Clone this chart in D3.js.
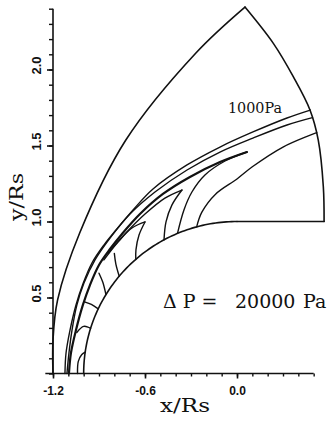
<!DOCTYPE html>
<html>
<head>
<meta charset="utf-8">
<script src="https://cdn.jsdelivr.net/npm/d3@7"></script>
<style>
  body { margin: 0; background: #fff; }
  svg { display: block; }
</style>
</head>
<body>
<script>
// Axis ticks
const xTickValues = [-1.2, -0.6, 0.0];
const xTickLabels = ["-1.2", "-0.6", "0.0"];
const yTickValues = [0.5, 1.0, 1.5, 2.0];
const yTickLabels = ["0.5", "1.0", "1.5", "2.0"];

// Computational domain boundary (x/Rs, y/Rs)
const outerLeft = [[-1.2, 0], [-1.2, 0.22], [-1.17, 0.484], [-1.026, 0.924], [-0.725, 1.536], [-0.268, 2.109], [0.052, 2.411]];
const outerRight = [[0.052, 2.411], [0.237, 2.172], [0.367, 1.953], [0.476, 1.734], [0.530, 1.536], [0.563, 1.229], [0.568, 1.0]];
const baseEdge = [[0.568, 1.0], [0.0, 1.0]];

// Pressure contours
const contour1000 = [[-1.122, 0], [-1.115, 0.135], [-1.089, 0.286], [-1.050, 0.451], [-1.005, 0.589], [-0.946, 0.727], [-0.868, 0.845], [-0.789, 0.944], [-0.678, 1.076], [-0.548, 1.214], [-0.326, 1.372], [-0.111, 1.490], [0.104, 1.589], [0.326, 1.681], [0.478, 1.733]];
const contourB = [[-1.109, 0], [-1.096, 0.135], [-1.076, 0.286], [-1.044, 0.451], [-0.998, 0.595], [-0.926, 0.747], [-0.828, 0.891], [-0.698, 1.049], [-0.535, 1.194], [-0.326, 1.339], [-0.111, 1.457], [0.104, 1.549], [0.326, 1.635], [0.492, 1.683]];
const contourT = [[-1.096, 0], [-1.083, 0.135], [-1.050, 0.286], [-1.005, 0.451], [-0.959, 0.582], [-0.900, 0.714], [-0.828, 0.819], [-0.750, 0.918], [-0.633, 1.049], [-0.483, 1.181], [-0.307, 1.293], [-0.111, 1.391], [0.065, 1.457]];
const tongue1Lower = [[0.065, 1.457], [-0.078, 1.398], [-0.209, 1.306], [-0.294, 1.194], [-0.346, 1.076], [-0.388, 0.922]];
const tongue2Upper = [[-0.359, 1.207], [-0.470, 1.154], [-0.600, 1.049], [-0.731, 0.918], [-0.841, 0.793]];
const tongue2Lower = [[-0.359, 1.207], [-0.424, 1.109], [-0.463, 0.997], [-0.476, 0.879]];
const tongue3Upper = [[-0.600, 0.997], [-0.685, 0.957], [-0.776, 0.865], [-0.868, 0.747]];
const tongue3Lower = [[-0.600, 0.997], [-0.639, 0.911], [-0.659, 0.813], [-0.660, 0.750]];
const hook1 = [[-0.80, 0.79], [-0.79, 0.72], [-0.768, 0.64]];
const hook2 = [[-0.90, 0.66], [-0.875, 0.60], [-0.855, 0.52]];
const hook3 = [[-0.99, 0.47], [-0.95, 0.455], [-0.905, 0.425]];
const hook4 = [[-1.045, 0.27], [-1.0, 0.31], [-0.955, 0.297]];
const dome = [[-1.04, 0], [-1.035, 0.08], [-1.012, 0.125], [-0.99, 0.141]];
const contourC = [[-0.263, 0.965], [-0.23, 1.06], [-0.14, 1.18], [0.0, 1.28], [0.1, 1.36], [0.3, 1.49], [0.52, 1.585]];

const contours = [contour1000, contourB, contourT, tongue1Lower, tongue2Upper, tongue2Lower,
  tongue3Upper, tongue3Lower, hook1, hook2, hook3, hook4, dome, contourC];

const W = 327, H = 426;
const ink = "#111";

const svg = d3.select("body").append("svg").attr("width", W).attr("height", H);

const x = d3.scaleLinear().domain([-1.2, 0]).range([53, 237]);
const y = d3.scaleLinear().domain([0, 2]).range([373.5, 69.5]);

const xAxisScale = d3.scaleLinear().domain([-1.25, 0.5]).range([x(-1.25), x(0.5)]);
const yAxisScale = d3.scaleLinear().domain([0, 2.4]).range([y(0), y(2.4)]);

const line = d3.line().x(d => x(d[0])).y(d => y(d[1])).curve(d3.curveCatmullRom.alpha(0.5));
const straight = d3.line().x(d => x(d[0])).y(d => y(d[1]));

// Solar surface, r = 1 Rs, from the pole down to the equator
const surface = d3.range(0, 91, 1).map(a => {
  const t = (90 + a) * Math.PI / 180;
  return [Math.cos(t), Math.sin(t)];
});

const g = svg.append("g").attr("fill", "none").attr("stroke", ink).attr("stroke-linejoin", "round").attr("stroke-linecap", "round");

g.append("path").attr("d", line(outerLeft)).attr("stroke-width", 1.6);
g.append("path").attr("d", line(outerRight)).attr("stroke-width", 1.6);
g.append("path").attr("d", straight(baseEdge)).attr("stroke-width", 1.6);
g.append("path").attr("d", straight(surface)).attr("stroke-width", 1.6);

g.selectAll(".contour").data(contours).join("path")
  .attr("class", "contour")
  .attr("d", d => line(d))
  .attr("stroke-width", (d, i) => (i === 2 ? 2.2 : 1.4));

// Axes
const minorX = d3.range(-12, 6).map(i => i / 10);
const minorY = d3.range(0, 25).map(i => i / 10);

const xAxisG = svg.append("g").attr("transform", `translate(0,${y(0)})`);
xAxisG.append("g").call(d3.axisBottom(xAxisScale).tickValues(minorX).tickSize(3).tickFormat(""))
  .call(a => a.select(".domain").attr("stroke-width", 1.6).attr("stroke", ink).attr("d", `M${x(-1.25)},0H${x(0.5)}`))
  .call(a => a.selectAll(".tick line").attr("stroke", ink).attr("stroke-width", 1.4));
xAxisG.append("g").call(d3.axisBottom(xAxisScale).tickValues(xTickValues).tickSize(5)
    .tickFormat((d, i) => xTickLabels[i]))
  .call(a => a.select(".domain").remove())
  .call(a => a.selectAll(".tick line").attr("stroke", ink).attr("stroke-width", 1.6))
  .call(a => a.selectAll(".tick text").attr("dy", null).attr("y", 21)
    .attr("fill", ink).style("font", "bold 12px 'Liberation Sans', Arial, sans-serif"));

const yAxisG = svg.append("g").attr("transform", `translate(${x(-1.2)},0)`);
yAxisG.append("g").call(d3.axisLeft(yAxisScale).tickValues(minorY).tickSize(4).tickFormat(""))
  .call(a => a.select(".domain").attr("stroke-width", 1.6).attr("stroke", ink).attr("d", `M0,${y(0)}V${y(2.4)}`))
  .call(a => a.selectAll(".tick line").attr("stroke", ink).attr("stroke-width", 1.4));
yAxisG.append("g").call(d3.axisLeft(yAxisScale).tickValues(yTickValues).tickSize(6).tickFormat(""))
  .call(a => a.select(".domain").remove())
  .call(a => a.selectAll(".tick line").attr("stroke", ink).attr("stroke-width", 1.6));

svg.append("g").selectAll("text").data(yTickValues).join("text")
  .attr("transform", d => `translate(41,${y(d) - 4}) rotate(-90)`)
  .attr("text-anchor", "middle")
  .attr("fill", ink)
  .style("font", "bold 13px 'Liberation Sans', Arial, sans-serif")
  .text((d, i) => yTickLabels[i]);

// Axis titles
svg.append("text").attr("x", 160).attr("y", 412)
  .attr("textLength", 50).attr("lengthAdjust", "spacingAndGlyphs")
  .attr("fill", ink).style("font", "18px 'DejaVu Serif', serif").text("x/Rs");
svg.append("text").attr("transform", "translate(23,221) rotate(-90)")
  .attr("textLength", 48).attr("lengthAdjust", "spacingAndGlyphs")
  .attr("fill", ink).style("font", "18px 'DejaVu Serif', serif").text("y/Rs");

// Annotations
svg.append("text").attr("x", 228).attr("y", 113).attr("fill", ink)
  .attr("textLength", 54).attr("lengthAdjust", "spacingAndGlyphs")
  .style("font", "14px 'DejaVu Serif', serif").text("1000Pa");

const ann = svg.append("g").attr("fill", ink).style("font", "19px 'DejaVu Serif', serif");
ann.append("text").attr("x", 163).attr("y", 308).text("Δ P =");
ann.append("text").attr("x", 235).attr("y", 308).text("20000");
ann.append("text").attr("x", 303).attr("y", 308).text("Pa");
</script>
</body>
</html>
